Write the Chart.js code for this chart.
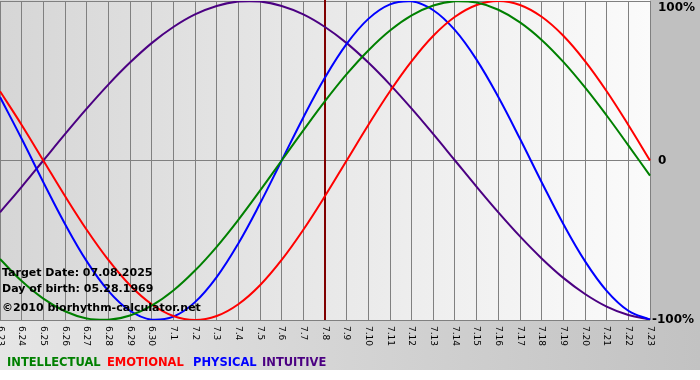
<!DOCTYPE html>
<html><head><meta charset="utf-8">
<script src="https://cdn.jsdelivr.net/npm/chart.js@4.4.1/dist/chart.umd.min.js"></script>
<style>html,body{margin:0;padding:0;background:#fff}#wrap{width:700px;height:380px;position:relative}</style>
</head><body><div id="wrap"><canvas id="c" width="700" height="380"></canvas></div>
<script>
const days = ["6.23","6.24","6.25","6.26","6.27","6.28","6.29","6.30","7.1","7.2","7.3","7.4","7.5","7.6","7.7","7.8","7.9","7.10","7.11","7.12","7.13","7.14","7.15","7.16","7.17","7.18","7.19","7.20","7.21","7.22","7.23"];
const intellectual = [-0.618,-0.756,-0.866,-0.945,-0.990,-0.999,-0.972,-0.910,-0.815,-0.690,-0.541,-0.372,-0.189,0,0.189,0.372,0.541,0.690,0.815,0.910,0.972,0.999,0.990,0.945,0.866,0.756,0.618,0.458,0.282,0.095,-0.095];
const emotional = [0.434,0.223,0,-0.223,-0.434,-0.623,-0.782,-0.901,-0.975,-1,-0.975,-0.901,-0.782,-0.623,-0.434,-0.223,0,0.223,0.434,0.623,0.782,0.901,0.975,1,0.975,0.901,0.782,0.623,0.434,0.223,0];
const physical = [0.398,0.136,-0.136,-0.398,-0.631,-0.817,-0.942,-0.998,-0.979,-0.888,-0.731,-0.520,-0.270,0,0.270,0.520,0.731,0.888,0.979,0.998,0.942,0.817,0.631,0.398,0.136,-0.136,-0.398,-0.631,-0.817,-0.942,-0.998];
const intuitive = [-0.325,-0.165,0,0.165,0.325,0.476,0.614,0.736,0.837,0.916,0.969,0.997,0.997,0.969,0.916,0.837,0.736,0.614,0.476,0.325,0.165,0,-0.165,-0.325,-0.476,-0.614,-0.736,-0.837,-0.916,-0.969,-0.997];
const yTickLabels = ["100%","0","-100%"];
const yTickValues = [1,0,-1];
const targetDay = "7.8";
const infoLines = ["Target Date: 07.08.2025","Day of birth: 05.28.1969","\u00a92010 biorhythm-calculator.net"];
const seriesNames = ["INTELLECTUAL","EMOTIONAL","PHYSICAL","INTUITIVE"];
const seriesColors = ["#008000","#ff0000","#0000ff","#4b0082"];

const bgPlugin = {
  id:'bg',
  beforeDraw(chart){
    const ctx = chart.ctx, a = chart.chartArea;
    ctx.save();
    ctx.fillStyle = '#ffffff'; ctx.fillRect(0,0,700,380);
    let g = ctx.createLinearGradient(0,0,700,0);
    g.addColorStop(0,'#e6e6e6'); g.addColorStop(1,'#c2c2c2');
    ctx.fillStyle = g; ctx.fillRect(0,0,700,370);
    ctx.fillStyle = '#c0c0c0'; ctx.fillRect(a.right,0,700-a.right,a.bottom);
    g = ctx.createLinearGradient(a.left,0,a.right,0);
    g.addColorStop(0,'#d6d6d6'); g.addColorStop(1,'#fbfbfb');
    ctx.fillStyle = g; ctx.fillRect(a.left,a.top-1,a.right-a.left,a.bottom-a.top+1);
    ctx.restore();
  },
  beforeDatasetsDraw(chart){
    const ctx = chart.ctx, a = chart.chartArea, xs = chart.scales.x;
    const x = Math.round(xs.getPixelForValue(days.indexOf(targetDay)));
    ctx.save();
    ctx.strokeStyle = '#800000'; ctx.lineWidth = 2;
    ctx.beginPath(); ctx.moveTo(x, a.top-1); ctx.lineTo(x, a.bottom); ctx.stroke();
    ctx.restore();
  },
  afterDraw(chart){
    const ctx = chart.ctx, a = chart.chartArea, xs = chart.scales.x, ys = chart.scales.y;
    ctx.save();
    ctx.fillStyle = '#000';
    ctx.font = '9px "DejaVu Sans"';
    ctx.textAlign = 'left'; ctx.textBaseline = 'middle';
    days.forEach((d,i)=>{
      const x = xs.getPixelForValue(i);
      ctx.save(); ctx.translate(x, a.bottom+6); ctx.rotate(Math.PI/2);
      ctx.fillText(d,0,0); ctx.restore();
    });
    ctx.font = 'bold 12px "DejaVu Sans"';
    ctx.textBaseline = 'middle';
    yTickValues.forEach((v,i)=>{
      const y = ys.getPixelForValue(v);
      const lbl = yTickLabels[i];
      const x = lbl.startsWith('-') ? a.right+2 : a.right+8;
      ctx.fillText(lbl, x, v===1 ? y+7 : y);
    });
    ctx.font = 'bold 11px "DejaVu Sans"';
    ctx.textBaseline = 'alphabetic';
    ctx.fillText(infoLines[0], 2, 276);
    ctx.fillText(infoLines[1], 2, 292);
    ctx.fillText(infoLines[2], 2, 311);
    ctx.font = 'bold 11.5px "DejaVu Sans"';
    const lx = [7,107,193,262];
    seriesNames.forEach((n,i)=>{ ctx.fillStyle = seriesColors[i]; ctx.fillText(n, lx[i], 366); });
    ctx.restore();
  }
};

new Chart(document.getElementById('c'), {
  type:'line',
  data:{ labels: days, datasets:[
    {label:seriesNames[0], data:intellectual, borderColor:seriesColors[0]},
    {label:seriesNames[1], data:emotional, borderColor:seriesColors[1]},
    {label:seriesNames[2], data:physical, borderColor:seriesColors[2]},
    {label:seriesNames[3], data:intuitive, borderColor:seriesColors[3]}
  ]},
  options:{
    responsive:false, animation:false, devicePixelRatio:1,
    layout:{padding:{left:0,right:50,top:1,bottom:60}},
    elements:{ point:{radius:0}, line:{borderWidth:2, tension:0.4, fill:false}},
    plugins:{ legend:{display:false}, tooltip:{enabled:false}},
    scales:{
      x:{ offset:false, ticks:{display:false}, grid:{color:'#808080', drawTicks:false, lineWidth:1}, border:{display:false}},
      y:{ min:-1, max:1, ticks:{display:false, stepSize:1}, grid:{color:'#808080', drawTicks:false}, border:{display:false}}
    }
  },
  plugins:[bgPlugin]
});
</script></body></html>
